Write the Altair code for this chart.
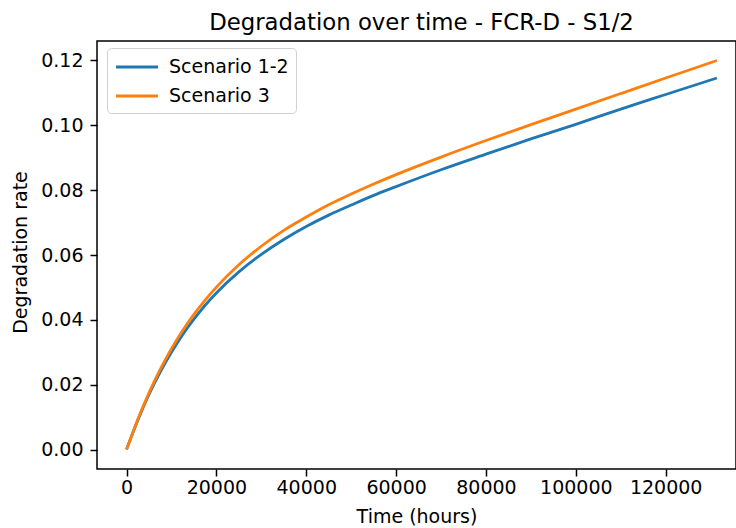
import altair as alt
import pandas as pd

hours = [0, 2500, 5000, 7500, 10000, 12500, 15000, 17500, 20000, 25000, 30000,
         35000, 40000, 45000, 50000, 55000, 60000, 70000, 80000, 90000, 100000,
         110000, 120000, 131400]
scenario_12 = [0.0, 0.0090, 0.0170, 0.0239, 0.0300, 0.0354, 0.0402, 0.0445, 0.0483,
               0.0548, 0.0602, 0.0648, 0.0688, 0.0723, 0.0754, 0.0784, 0.0811,
               0.0863, 0.0911, 0.0958, 0.1003, 0.1050, 0.1095, 0.1146]
scenario_3 = [0.0, 0.0093, 0.0175, 0.0247, 0.0311, 0.0367, 0.0417, 0.0461, 0.0501,
              0.0570, 0.0627, 0.0676, 0.0717, 0.0755, 0.0788, 0.0819, 0.0848,
              0.0902, 0.0953, 0.1002, 0.1050, 0.1098, 0.1146, 0.1200]
series_names = ["Scenario 1-2", "Scenario 3"]
series_colors = ["#1f77b4", "#ff7f0e"]
x_ticks = [0, 20000, 40000, 60000, 80000, 100000, 120000]
y_ticks = [0.0, 0.02, 0.04, 0.06, 0.08, 0.10, 0.12]

rows = []
for name, vals in zip(series_names, [scenario_12, scenario_3]):
    for t, v in zip(hours, vals):
        rows.append({"hours": t, "rate": v, "series": name})
df = pd.DataFrame(rows)

FONT = "DejaVu Sans"

chart = alt.Chart(df).mark_line(strokeWidth=2.8, interpolate="monotone").encode(
    x=alt.X("hours:Q",
            scale=alt.Scale(domain=[-6570, 135650], nice=False, zero=False),
            axis=alt.Axis(values=x_ticks, format="d", title="Time (hours)",
                          labelPadding=2, titleY=53, titleBaseline="alphabetic")),
    y=alt.Y("rate:Q",
            scale=alt.Scale(domain=[-0.006, 0.126], nice=False, zero=False),
            axis=alt.Axis(values=y_ticks, format=".2f", title="Degradation rate",
                          titleX=-71, titleY=211, titleAngle=-90,
                          titleBaseline="alphabetic", titleAlign="center")),
    color=alt.Color("series:N",
                    scale=alt.Scale(domain=series_names, range=series_colors),
                    legend=alt.Legend(title=None, orient="none", legendX=10, legendY=7,
                                      symbolType="M-2,0H2", symbolSize=441,
                                      symbolStrokeWidth=2.8, symbolOffset=11,
                                      labelFontSize=19, labelFont=FONT,
                                      labelColor="black", labelOffset=20,
                                      padding=7, rowPadding=7,
                                      cornerRadius=4, strokeColor="#d0d0d0",
                                      fillColor="rgba(255,255,255,0.8)")),
).properties(
    width=639,
    height=428,
    title=alt.TitleParams("Degradation over time - FCR-D - S1/2", font=FONT,
                          fontSize=22.8, fontWeight="normal", color="black",
                          anchor="middle", baseline="bottom", offset=7, dx=5, dy=24),
    padding={"left": 97, "top": 41, "right": 0, "bottom": 59},
    autosize="none",
    background="white",
).configure_view(
    stroke="black", strokeWidth=1.5
).configure_axis(
    domain=False, grid=False, ticks=True, tickColor="black", tickSize=7,
    tickWidth=1.5, labelFont=FONT, labelFontSize=19, labelColor="black",
    labelPadding=7, titleFont=FONT, titleFontSize=19, titleFontWeight="normal",
    titleColor="black", labelFlush=False
)

chart.save("out.html", embed_options={"renderer": "svg", "actions": False})
